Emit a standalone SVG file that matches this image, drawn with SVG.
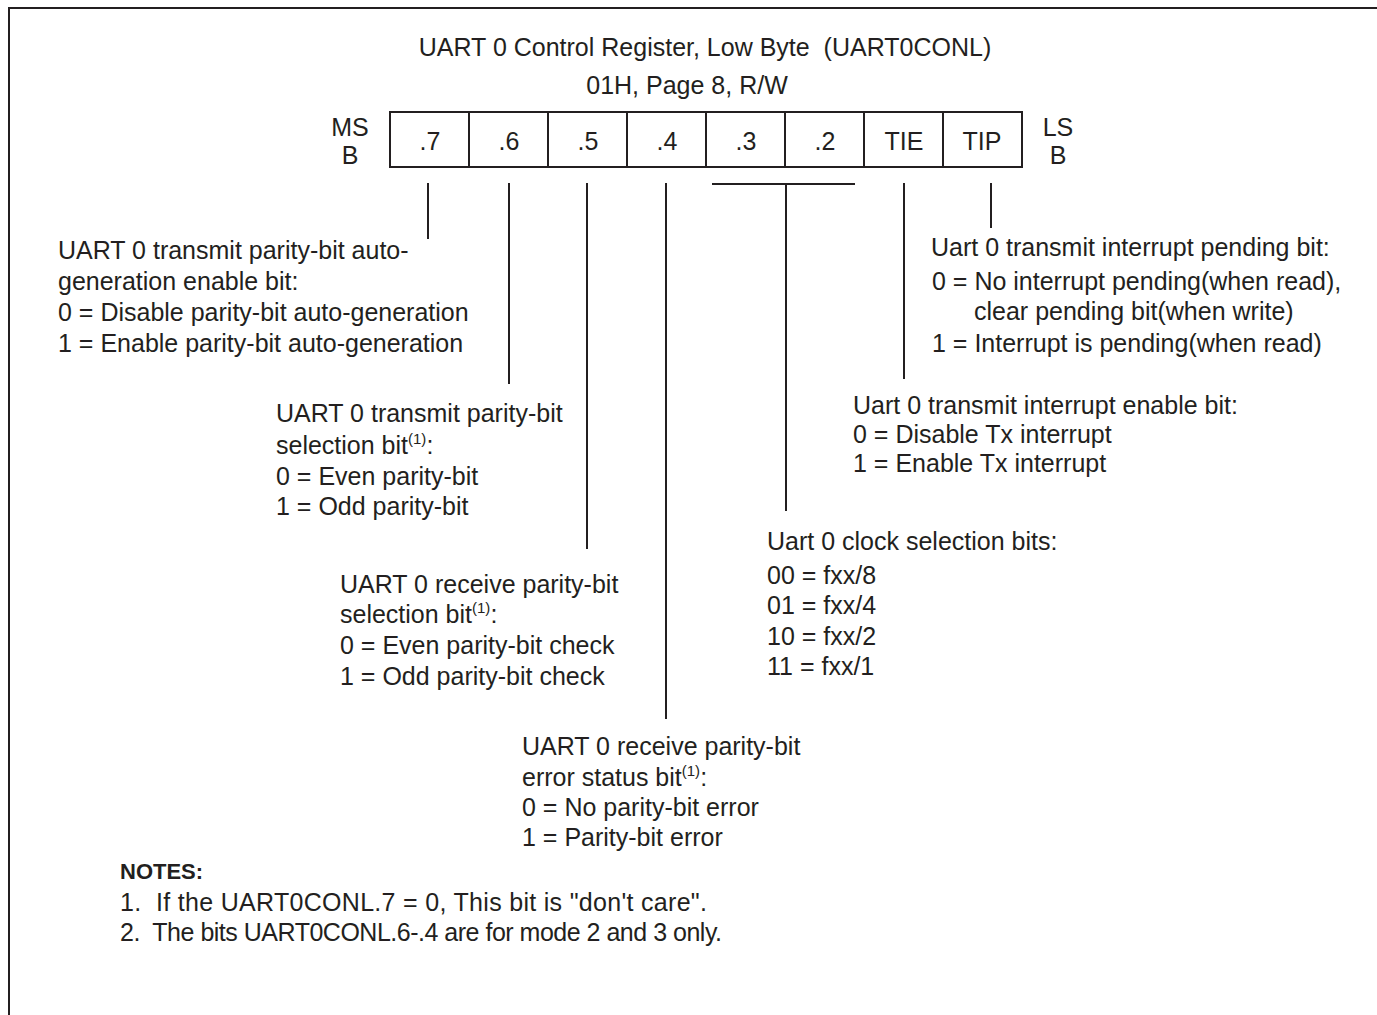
<svg xmlns="http://www.w3.org/2000/svg" width="1377" height="1015" viewBox="0 0 1377 1015">
<style>
text{font-family:"Liberation Sans",Arial,sans-serif;font-size:25px;fill:#231f20}
.c{text-anchor:middle}
.b{font-weight:bold}
.sup{font-size:15px}
.ln{stroke:#231f20;stroke-width:2;fill:none}
</style>
<rect width="1377" height="1015" fill="#fff"/>
<path class="ln" d="M9 1015V8H1377"/>
<g id="title">
<text class="c" x="705" y="56">UART 0 Control Register, Low Byte&#160; (UART0CONL)</text>
<text class="c" x="687" y="94">01H, Page 8, R/W</text>
</g>
<g id="register">
<rect class="ln" x="390" y="112" width="632" height="55"/>
<path class="ln" d="M469 112V167M548 112V167M627 112V167M706 112V167M785 112V167M864 112V167M943 112V167"/>
<text class="c" x="430" y="150">.7</text>
<text class="c" x="509" y="150">.6</text>
<text class="c" x="588" y="150">.5</text>
<text class="c" x="667" y="150">.4</text>
<text class="c" x="746" y="150">.3</text>
<text class="c" x="825" y="150">.2</text>
<text class="c" x="904" y="150">TIE</text>
<text class="c" x="982" y="150">TIP</text>
<text class="c" x="350" y="136">MS</text>
<text class="c" x="350" y="164">B</text>
<text class="c" x="1058" y="136">LS</text>
<text class="c" x="1058" y="164">B</text>
</g>
<g id="connectors">
<path class="ln" d="M428 183V239M509 183V384M587 183V549M666 183V719M712 184H855M786 184V511M904 183V379M991 183V228"/>
</g>
<g id="bit7">
<text x="58" y="259">UART 0 transmit parity-bit auto-</text>
<text x="58" y="290">generation enable bit:</text>
<text x="58" y="321">0 = Disable parity-bit auto-generation</text>
<text x="58" y="352">1 = Enable parity-bit auto-generation</text>
</g>
<g id="bit6">
<text x="276" y="422">UART 0 transmit parity-bit</text>
<text x="276" y="454">selection bit<tspan class="sup" dy="-10">(1)</tspan><tspan dy="10">:</tspan></text>
<text x="276" y="485">0 = Even parity-bit</text>
<text x="276" y="515">1 = Odd parity-bit</text>
</g>
<g id="bit5">
<text x="340" y="593">UART 0 receive parity-bit</text>
<text x="340" y="623">selection bit<tspan class="sup" dy="-10">(1)</tspan><tspan dy="10">:</tspan></text>
<text x="340" y="654">0 = Even parity-bit check</text>
<text x="340" y="685">1 = Odd parity-bit check</text>
</g>
<g id="bit4">
<text x="522" y="755">UART 0 receive parity-bit</text>
<text x="522" y="786">error status bit<tspan class="sup" dy="-10">(1)</tspan><tspan dy="10">:</tspan></text>
<text x="522" y="816">0 = No parity-bit error</text>
<text x="522" y="846">1 = Parity-bit error</text>
</g>
<g id="bit32">
<text x="767" y="550">Uart 0 clock selection bits:</text>
<text x="767" y="584">00 = fxx/8</text>
<text x="767" y="614">01 = fxx/4</text>
<text x="767" y="645">10 = fxx/2</text>
<text x="767" y="675">11 = fxx/1</text>
</g>
<g id="tie">
<text x="853" y="414">Uart 0 transmit interrupt enable bit:</text>
<text x="853" y="443">0 = Disable Tx interrupt</text>
<text x="853" y="472">1 = Enable Tx interrupt</text>
</g>
<g id="tip">
<text x="931" y="256">Uart 0 transmit interrupt pending bit:</text>
<text x="932" y="290">0 = No interrupt pending(when read),</text>
<text x="974" y="320">clear pending bit(when write)</text>
<text x="932" y="352">1 = Interrupt is pending(when read)</text>
</g>
<g id="notes">
<text class="b" x="120" y="879" style="font-size:22px">NOTES:</text>
<text x="120" y="911" textLength="587">1.&#160; If the UART0CONL.7 = 0, This bit is "don't care".</text>
<text x="120" y="941" textLength="602">2.&#160; The bits UART0CONL.6-.4 are for mode 2 and 3 only.</text>
</g>
</svg>
